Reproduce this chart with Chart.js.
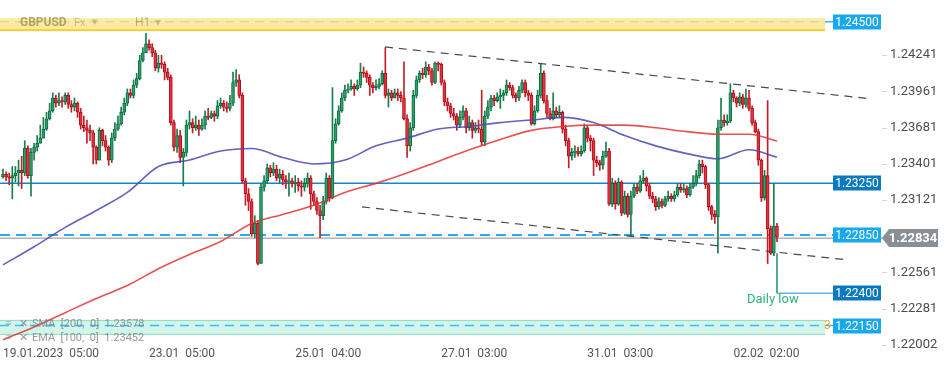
<!DOCTYPE html>
<html>
<head>
<meta charset="utf-8">
<script src="https://cdn.jsdelivr.net/npm/chart.js@4.4.0/dist/chart.umd.min.js"></script>
<style>
  html, body { margin: 0; padding: 0; background: #fff; }
</style>
</head>
<body>
<canvas id="chart" width="949" height="370"></canvas>
<script>
// GBPUSD H1 candles, 19.01.2023 05:00 -> 02.02.2023 ~14:00
const firstOpen = 1.2330;
const closes = [
  1.2332, 1.2330, 1.2329, 1.2331, 1.2333, 1.2335, 1.2333, 1.2352, 1.2331, 1.2349,
  1.2353, 1.2356, 1.2360, 1.2367, 1.2375, 1.2381, 1.2391, 1.2387, 1.2389, 1.2388,
  1.2393, 1.2386, 1.2384, 1.2387, 1.2380, 1.2370, 1.2368, 1.2366, 1.2364, 1.2353,
  1.2343, 1.2366, 1.2358, 1.2353, 1.2343, 1.2360, 1.2367, 1.2371, 1.2380, 1.2387,
  1.2395, 1.2393, 1.2401, 1.2406, 1.2420, 1.2426, 1.2433, 1.2430, 1.2426, 1.2414,
  1.2418, 1.2417, 1.2411, 1.2407, 1.2372, 1.2353, 1.2362, 1.2345, 1.2349, 1.2370,
  1.2372, 1.2368, 1.2370, 1.2367, 1.2370, 1.2377, 1.2376, 1.2379, 1.2377, 1.2385,
  1.2387, 1.2384, 1.2383, 1.2387, 1.2403, 1.2405, 1.2393, 1.2327, 1.2317, 1.2311,
  1.2286, 1.2294, 1.2263, 1.2322, 1.2327, 1.2337, 1.2333, 1.2336, 1.2329, 1.2332,
  1.2328, 1.2326, 1.2327, 1.2325, 1.2326, 1.2323, 1.2322, 1.2325, 1.2329, 1.2317,
  1.2311, 1.2304, 1.2300, 1.2311, 1.2329, 1.2314, 1.2358, 1.2371, 1.2381, 1.2391,
  1.2397, 1.2398, 1.2400, 1.2398, 1.2401, 1.2411, 1.2410, 1.2407, 1.2401, 1.2399,
  1.2400, 1.2402, 1.2410, 1.2393, 1.2395, 1.2391, 1.2395, 1.2393, 1.2391, 1.2375,
  1.2354, 1.2368, 1.2393, 1.2405, 1.2410, 1.2409, 1.2415, 1.2412, 1.2403, 1.2418,
  1.2417, 1.2403, 1.2388, 1.2385, 1.2379, 1.2377, 1.2370, 1.2376, 1.2381, 1.2368,
  1.2372, 1.2366, 1.2368, 1.2367, 1.2357, 1.2377, 1.2384, 1.2391, 1.2389, 1.2392,
  1.2393, 1.2395, 1.2401, 1.2399, 1.2393, 1.2391, 1.2397, 1.2403, 1.2395, 1.2393,
  1.2371, 1.2381, 1.2393, 1.2410, 1.2389, 1.2379, 1.2375, 1.2381, 1.2378, 1.2380,
  1.2367, 1.2358, 1.2346, 1.2349, 1.2350, 1.2348, 1.2350, 1.2368, 1.2360, 1.2358,
  1.2343, 1.2341, 1.2339, 1.2346, 1.2350, 1.2309, 1.2325, 1.2309, 1.2326, 1.2302,
  1.2315, 1.2301, 1.2315, 1.2322, 1.2319, 1.2327, 1.2329, 1.2323, 1.2315, 1.2313,
  1.2307, 1.2311, 1.2308, 1.2313, 1.2315, 1.2313, 1.2316, 1.2322, 1.2320, 1.2321,
  1.2316, 1.2322, 1.2325, 1.2331, 1.2340, 1.2338, 1.2324, 1.2307, 1.2301, 1.2299,
  1.2368, 1.2374, 1.2372, 1.2373, 1.2395, 1.2391, 1.2387, 1.2392, 1.2386, 1.2391,
  1.2383, 1.2372, 1.2365, 1.2343, 1.2314, 1.2331, 1.2290, 1.2271, 1.2292, 1.22834
];
const highs = [
  1.2336, 1.2334, 1.2333, 1.2338, 1.2338, 1.2343, 1.2346, 1.2358, 1.2354, 1.2352,
  1.2356, 1.2362, 1.2370, 1.2376, 1.2380, 1.2387, 1.2395, 1.2393, 1.2395, 1.2392,
  1.2395, 1.2395, 1.2389, 1.2391, 1.2388, 1.2383, 1.2377, 1.2374, 1.2370, 1.2366,
  1.2354, 1.2368, 1.2367, 1.2362, 1.2354, 1.2364, 1.2372, 1.2377, 1.2384, 1.2391,
  1.2398, 1.2398, 1.2405, 1.2410, 1.2424, 1.2430, 1.2441, 1.2436, 1.2433, 1.2428,
  1.2424, 1.2424, 1.2419, 1.2414, 1.2409, 1.2374, 1.2367, 1.2366, 1.2352, 1.2374,
  1.2381, 1.2375, 1.2377, 1.2374, 1.2375, 1.2381, 1.2383, 1.2381, 1.2381, 1.2389,
  1.2391, 1.2389, 1.2388, 1.2393, 1.2411, 1.2413, 1.2409, 1.2395, 1.2329, 1.2321,
  1.2313, 1.2300, 1.2296, 1.2325, 1.2331, 1.2340, 1.2339, 1.2341, 1.2339, 1.2336,
  1.2335, 1.2331, 1.2333, 1.2329, 1.2331, 1.2329, 1.2327, 1.2329, 1.2333, 1.2331,
  1.2319, 1.2314, 1.2308, 1.2315, 1.2333, 1.2331, 1.2399, 1.2375, 1.2385, 1.2395,
  1.2401, 1.2402, 1.2405, 1.2402, 1.2405, 1.2418, 1.2415, 1.2412, 1.2409, 1.2403,
  1.2405, 1.2406, 1.2412, 1.2430, 1.2398, 1.2397, 1.2398, 1.2398, 1.2396, 1.2419,
  1.2378, 1.2372, 1.2397, 1.2408, 1.2412, 1.2414, 1.2419, 1.2417, 1.2414, 1.2419,
  1.2419, 1.2418, 1.2405, 1.2391, 1.2387, 1.2383, 1.2379, 1.2381, 1.2385, 1.2383,
  1.2377, 1.2374, 1.2372, 1.2374, 1.2397, 1.2381, 1.2389, 1.2393, 1.2393, 1.2395,
  1.2398, 1.2397, 1.2405, 1.2403, 1.2401, 1.2395, 1.2400, 1.2405, 1.2405, 1.2397,
  1.2395, 1.2385, 1.2397, 1.2418, 1.2412, 1.2393, 1.2383, 1.2395, 1.2384, 1.2385,
  1.2381, 1.2370, 1.2360, 1.2352, 1.2354, 1.2353, 1.2354, 1.2371, 1.2370, 1.2362,
  1.2360, 1.2346, 1.2343, 1.2350, 1.2357, 1.2352, 1.2329, 1.2327, 1.2329, 1.2327,
  1.2319, 1.2317, 1.2319, 1.2325, 1.2325, 1.2331, 1.2335, 1.2330, 1.2325, 1.2318,
  1.2315, 1.2314, 1.2313, 1.2315, 1.2319, 1.2317, 1.2319, 1.2325, 1.2325, 1.2325,
  1.2323, 1.2325, 1.2331, 1.2335, 1.2343, 1.2343, 1.2339, 1.2325, 1.2308, 1.2304,
  1.2374, 1.2391, 1.2378, 1.2378, 1.2402, 1.2397, 1.2392, 1.2395, 1.2394, 1.2398,
  1.2397, 1.2385, 1.2374, 1.2367, 1.2344, 1.2335, 1.2389, 1.2292, 1.2325, 1.2294
];
const lows = [
  1.2329, 1.2327, 1.2324, 1.2313, 1.2326, 1.2323, 1.2321, 1.2331, 1.2329, 1.2315,
  1.2343, 1.2350, 1.2357, 1.2360, 1.2366, 1.2374, 1.2380, 1.2384, 1.2385, 1.2384,
  1.2386, 1.2383, 1.2380, 1.2381, 1.2376, 1.2367, 1.2365, 1.2356, 1.2358, 1.2340,
  1.2340, 1.2343, 1.2354, 1.2350, 1.2339, 1.2341, 1.2358, 1.2366, 1.2370, 1.2378,
  1.2385, 1.2391, 1.2391, 1.2399, 1.2405, 1.2419, 1.2426, 1.2428, 1.2423, 1.2412,
  1.2411, 1.2414, 1.2405, 1.2405, 1.2370, 1.2350, 1.2349, 1.2341, 1.2323, 1.2346,
  1.2367, 1.2364, 1.2366, 1.2362, 1.2366, 1.2367, 1.2374, 1.2375, 1.2373, 1.2375,
  1.2383, 1.2381, 1.2380, 1.2381, 1.2385, 1.2400, 1.2391, 1.2325, 1.2308, 1.2304,
  1.2284, 1.2283, 1.2262, 1.2263, 1.2319, 1.2325, 1.2330, 1.2331, 1.2327, 1.2325,
  1.2324, 1.2321, 1.2315, 1.2322, 1.2318, 1.2319, 1.2315, 1.2319, 1.2322, 1.2305,
  1.2308, 1.2301, 1.2283, 1.2297, 1.2309, 1.2311, 1.2313, 1.2356, 1.2370, 1.2380,
  1.2389, 1.2395, 1.2397, 1.2393, 1.2397, 1.2399, 1.2407, 1.2403, 1.2393, 1.2395,
  1.2397, 1.2398, 1.2401, 1.2391, 1.2384, 1.2389, 1.2391, 1.2389, 1.2388, 1.2374,
  1.2345, 1.2350, 1.2366, 1.2391, 1.2403, 1.2406, 1.2407, 1.2409, 1.2401, 1.2402,
  1.2412, 1.2401, 1.2385, 1.2381, 1.2376, 1.2374, 1.2366, 1.2368, 1.2374, 1.2364,
  1.2366, 1.2360, 1.2364, 1.2364, 1.2354, 1.2354, 1.2375, 1.2381, 1.2385, 1.2388,
  1.2383, 1.2389, 1.2393, 1.2397, 1.2391, 1.2388, 1.2389, 1.2395, 1.2392, 1.2389,
  1.2370, 1.2370, 1.2380, 1.2391, 1.2387, 1.2376, 1.2374, 1.2374, 1.2376, 1.2376,
  1.2364, 1.2354, 1.2337, 1.2343, 1.2345, 1.2346, 1.2346, 1.2349, 1.2357, 1.2350,
  1.2331, 1.2338, 1.2335, 1.2336, 1.2345, 1.2308, 1.2307, 1.2305, 1.2308, 1.2300,
  1.2301, 1.2299, 1.2284, 1.2314, 1.2317, 1.2318, 1.2325, 1.2319, 1.2313, 1.2310,
  1.2304, 1.2305, 1.2306, 1.2307, 1.2311, 1.2311, 1.2311, 1.2315, 1.2318, 1.2318,
  1.2314, 1.2315, 1.2321, 1.2323, 1.2329, 1.2333, 1.2321, 1.2304, 1.2297, 1.2294,
  1.2271, 1.2366, 1.2369, 1.2370, 1.2372, 1.2388, 1.2384, 1.2385, 1.2383, 1.2384,
  1.2381, 1.2370, 1.2364, 1.2339, 1.2311, 1.2312, 1.2263, 1.2270, 1.2269, 1.2280
];

// moving averages, read every 10 candles (last one at the final candle)
const maIdx = [0, 10, 20, 30, 40, 50, 60, 70, 80, 90, 100, 110, 120, 130, 140, 150, 160, 170, 180, 190, 200, 210, 220, 230, 240, 249];
const ema100 = [1.2262, 1.2276, 1.2291, 1.2304, 1.2318, 1.2338, 1.2343, 1.2350, 1.2352, 1.2345, 1.2340, 1.2343, 1.2354,
                1.2360, 1.2367, 1.2369, 1.2372, 1.2374, 1.2376, 1.2372, 1.2362, 1.2354, 1.2348, 1.2344, 1.2351, 1.23452];
const sma200 = [1.2204, 1.2214, 1.2225, 1.2236, 1.2246, 1.2259, 1.2270, 1.2280, 1.2294, 1.2301, 1.2308, 1.2318, 1.2325,
                1.2333, 1.2342, 1.2351, 1.2359, 1.2366, 1.2369, 1.2370, 1.2370, 1.2368, 1.2365, 1.2363, 1.2363, 1.23578];

// axes
const tickIdx = [0, 47, 94, 141, 188, 235];
const tickLabels = ['19.01.2023  05:00', '23.01  05:00', '25.01  04:00', '27.01  03:00', '31.01  03:00', '02.02  02:00'];
const priceTicks = [1.24241, 1.23961, 1.23681, 1.23401, 1.23121, 1.22561, 1.22281, 1.22002];

// drawn levels and tools
const levelTop = 1.24500, levelMid = 1.23250, levelDash = 1.22850, levelLow = 1.22400, levelBottom = 1.22150;
const lastPrice = 1.22834;
const topBand = [1.24431, 1.24527];
const bottomBand = [1.22078, 1.22194];
const channelUpper = [[122.9, 1.24305], [279.6, 1.23903]];
const channelLower = [[115.5, 1.23068], [271.6, 1.22658]];
const dailyLowFrom = 1.2271;
const smaText = 'SMA  [200,  0]  1.23578';
const emaText = 'EMA  [100,  0]  1.23452';

const opens = closes.map((c, i) => i === 0 ? firstOpen : closes[i - 1]);
const up = closes.map((c, i) => c >= opens[i]);

const bodyData = closes.map((c, i) => ({ x: i, y: [opens[i], c] }));
const wickData = closes.map((c, i) => ({
  x: i,
  y: [Math.min(lows[i], opens[i], c), Math.max(highs[i], opens[i], c)]
}));

Chart.defaults.font.family = 'Roboto, "Open Sans", sans-serif';

function hLine(ctx, x1, x2, yy, color, width, dash) {
  ctx.save();
  ctx.strokeStyle = color;
  ctx.lineWidth = width;
  ctx.setLineDash(dash || []);
  ctx.beginPath();
  ctx.moveTo(x1, yy);
  ctx.lineTo(x2, yy);
  ctx.stroke();
  ctx.restore();
}

function levelBox(ctx, yy, text, color) {
  ctx.fillStyle = color;
  ctx.fillRect(833, Math.round(yy) - 7.5, 48, 15);
  ctx.fillStyle = '#fff';
  ctx.font = '12px Roboto';
  ctx.textAlign = 'center';
  ctx.textBaseline = 'middle';
  ctx.fillText(text, 857, Math.round(yy) + 0.5);
}

const overlay = {
  id: 'overlay',
  beforeDatasetsDraw(chart) {
    const { ctx, chartArea: a, scales: { x, y } } = chart;
    ctx.save();
    // top yellow zone with 1.24500 level under it
    hLine(ctx, a.left, 833, y.getPixelForValue(levelTop), '#3fb2e6', 1.5, [9, 6]);
    const t1 = y.getPixelForValue(topBand[1]), b1 = y.getPixelForValue(topBand[0]);
    ctx.fillStyle = 'rgba(252,228,140,0.82)';
    ctx.fillRect(a.left, t1, a.right - a.left, b1 - t1);
    ctx.fillStyle = '#f4d233';
    ctx.fillRect(a.left, b1 - 1.5, a.right - a.left, 2);

    ctx.textBaseline = 'middle';
    ctx.textAlign = 'left';
    const ty = y.getPixelForValue(levelTop) + 1;
    ctx.fillStyle = 'rgba(140,128,60,0.65)';
    ctx.font = 'bold 12px Roboto';
    ctx.fillText('GBPUSD', 20, ty);
    ctx.font = '11px Roboto';
    ctx.fillStyle = 'rgba(150,140,80,0.45)';
    ctx.fillText('Fx', 74, ty + 1);
    ctx.fillText('\u25BE', 92, ty);
    ctx.font = '12px Roboto';
    ctx.fillStyle = 'rgba(140,128,60,0.55)';
    ctx.fillText('H1', 135, ty);
    ctx.fillStyle = 'rgba(150,140,80,0.45)';
    ctx.fillText('\u25BE', 155, ty);

    // bottom mint zone
    const t2 = y.getPixelForValue(bottomBand[1]), b2 = y.getPixelForValue(bottomBand[0]);
    ctx.fillStyle = 'rgba(178,238,216,0.6)';
    ctx.fillRect(a.left, t2, a.right - a.left, b2 - t2);
    ctx.fillStyle = '#93dcc5';
    ctx.fillRect(a.left, t2, a.right - a.left, 1);
    ctx.fillRect(a.left, b2 - 1, a.right - a.left, 1);
    hLine(ctx, a.left, 833, y.getPixelForValue(levelBottom), '#3fbcee', 1.5, [9, 6]);

    // price levels sit under the candles
    hLine(ctx, a.left, 833, y.getPixelForValue(levelMid), '#1585d0', 1.5);
    hLine(ctx, a.left, 884, y.getPixelForValue(lastPrice) + 1, '#8e8e8e', 1);
    hLine(ctx, a.left, 833, y.getPixelForValue(levelDash), '#29a9ec', 2, [10, 6]);
    ctx.restore();
  },
  afterDatasetsDraw(chart) {
    const { ctx, scales: { x, y } } = chart;
    ctx.save();
    // daily low marker
    const xd = x.getPixelForValue(closes.length - 1);
    ctx.strokeStyle = '#1e9560';
    ctx.lineWidth = 1.5;
    ctx.beginPath();
    ctx.moveTo(xd, y.getPixelForValue(dailyLowFrom));
    ctx.lineTo(xd, y.getPixelForValue(levelLow));
    ctx.stroke();
    hLine(ctx, xd, 833, y.getPixelForValue(levelLow), '#6cb2de', 1.5);

    // channel
    ctx.strokeStyle = '#4a4a4a';
    ctx.lineWidth = 1.2;
    ctx.setLineDash([8, 6]);
    [channelUpper, channelLower].forEach(seg => {
      ctx.beginPath();
      ctx.moveTo(x.getPixelForValue(seg[0][0]), y.getPixelForValue(seg[0][1]));
      ctx.lineTo(x.getPixelForValue(seg[1][0]), y.getPixelForValue(seg[1][1]));
      ctx.stroke();
    });
    ctx.setLineDash([]);
    ctx.restore();
  },
  afterDraw(chart) {
    const { ctx, scales: { y } } = chart;
    ctx.save();
    // little tick dashes before price labels
    ctx.strokeStyle = '#d6d6d6';
    ctx.lineWidth = 1;
    priceTicks.forEach(p => {
      const yy = Math.round(y.getPixelForValue(p)) + 0.5;
      ctx.beginPath();
      ctx.moveTo(882, yy);
      ctx.lineTo(887, yy);
      ctx.stroke();
    });

    ctx.fillStyle = '#f2a12e';
    ctx.font = '12px Roboto';
    ctx.textAlign = 'left';
    ctx.textBaseline = 'middle';
    ctx.fillText('3', 824, y.getPixelForValue(levelBottom));

    levelBox(ctx, y.getPixelForValue(levelTop), levelTop.toFixed(5), '#18a8ec');
    levelBox(ctx, y.getPixelForValue(levelMid), levelMid.toFixed(5), '#0a79bf');
    levelBox(ctx, y.getPixelForValue(levelDash), levelDash.toFixed(5), '#18a8ec');
    levelBox(ctx, y.getPixelForValue(levelLow), levelLow.toFixed(5), '#0a79bf');
    levelBox(ctx, y.getPixelForValue(levelBottom), levelBottom.toFixed(5), '#18a8ec');

    // current price tag
    const yc = Math.round(y.getPixelForValue(lastPrice)) + 1;
    ctx.fillStyle = '#899095';
    ctx.beginPath();
    ctx.moveTo(882, yc);
    ctx.lineTo(889, yc - 9);
    ctx.lineTo(938, yc - 9);
    ctx.lineTo(938, yc + 9);
    ctx.lineTo(889, yc + 9);
    ctx.closePath();
    ctx.fill();
    ctx.fillStyle = '#fff';
    ctx.font = 'bold 13px Roboto';
    ctx.textAlign = 'center';
    ctx.fillText(lastPrice.toFixed(5), 913, yc + 0.5);

    // daily low caption
    ctx.fillStyle = '#2db37a';
    ctx.font = '13px Roboto';
    ctx.textAlign = 'left';
    ctx.fillText('Daily low', 747, 300);

    // indicator legend
    ctx.fillStyle = 'rgba(120,120,120,0.75)';
    ctx.font = '11px Roboto';
    ctx.fillText('\u2261', 5, 324);
    ctx.fillText('\u2715', 19, 324);
    ctx.fillText(smaText, 32, 324);
    ctx.fillText('\u2261', 5, 338);
    ctx.fillText('\u2715', 19, 338);
    ctx.fillText(emaText, 32, 338);
    ctx.restore();
  }
};

new Chart(document.getElementById('chart'), {
  type: 'bar',
  data: {
    datasets: [
      {
        type: 'line',
        data: maIdx.map((i, k) => ({ x: i, y: sma200[k] })),
        borderColor: 'rgba(226,52,52,0.85)',
        borderWidth: 1.6,
        pointRadius: 0,
        cubicInterpolationMode: 'monotone',
        order: 1
      },
      {
        type: 'line',
        data: maIdx.map((i, k) => ({ x: i, y: ema100[k] })),
        borderColor: 'rgba(70,72,175,0.85)',
        borderWidth: 1.6,
        pointRadius: 0,
        cubicInterpolationMode: 'monotone',
        order: 1
      },
      {
        data: bodyData,
        backgroundColor: up.map(u => u ? '#2aa36c' : '#ee2f3b'),
        borderColor: up.map(u => u ? '#0e6b41' : '#a8141e'),
        borderWidth: 1,
        borderSkipped: false,
        barThickness: 3,
        minBarLength: 1,
        grouped: false,
        order: 2
      },
      {
        data: wickData,
        backgroundColor: up.map(u => u ? '#177d4d' : '#c41d28'),
        barThickness: 1,
        grouped: false,
        order: 3
      }
    ]
  },
  options: {
    responsive: false,
    animation: false,
    events: [],
    layout: { padding: 0 },
    plugins: { legend: { display: false }, tooltip: { enabled: false } },
    scales: {
      x: {
        type: 'linear',
        min: -0.965,
        max: 264.45,
        offset: false,
        grid: { display: false, drawTicks: false, offset: false },
        border: { display: false },
        afterBuildTicks: s => { s.ticks = tickIdx.map(v => ({ value: v })); },
        afterFit: s => { s.height = 25; s.paddingLeft = 0; s.paddingRight = 0; },
        ticks: {
          autoSkip: false,
          maxRotation: 0,
          align: 'start',
          padding: 2,
          color: '#555',
          font: { size: 12 },
          callback: (v, i) => tickLabels[i]
        }
      },
      y: {
        type: 'linear',
        position: 'right',
        min: 1.2200,
        max: 1.24668,
        grid: { display: false, drawTicks: false },
        border: { display: false },
        afterBuildTicks: s => { s.ticks = priceTicks.map(v => ({ value: v })); },
        afterFit: s => { s.width = 124; s.paddingTop = 0; s.paddingBottom = 0; },
        ticks: {
          padding: 65,
          color: '#4d4d4d',
          font: { size: 13 },
          callback: v => v.toFixed(5)
        }
      }
    }
  },
  plugins: [overlay]
});
</script>
</body>
</html>
